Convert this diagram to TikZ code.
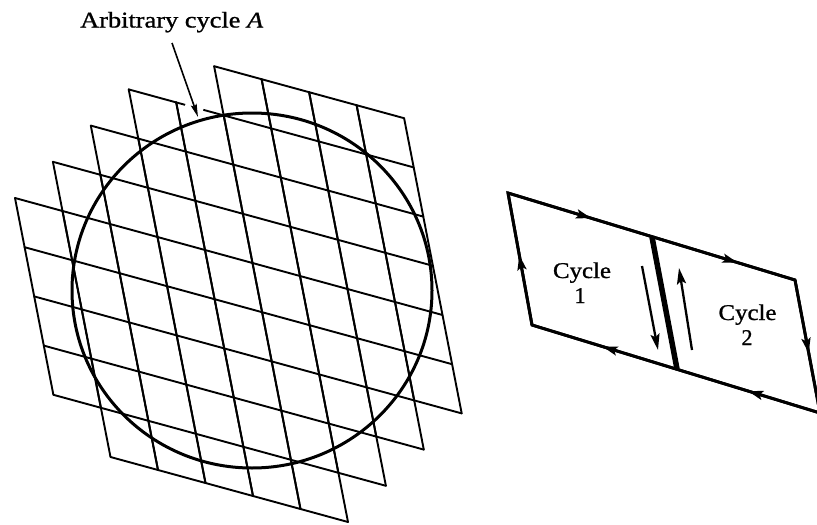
\documentclass[tikz,border=0pt]{standalone}
\usepackage{fontspec}
\usepackage{graphicx}
\setmainfont{Liberation Serif}
\newfontfamily\figfont[FakeBold=0.9]{Liberation Serif}
\usetikzlibrary{arrows.meta,decorations.markings}
\begin{document}
\begin{tikzpicture}[x=1pt,y=-1pt,
  gridline/.style={line width=1.9pt, line cap=round, line join=round},
  loopline/.style={line width=2.9pt, line cap=round, line join=miter},
  lbl/.style={font=\figfont\fontsize{22.5}{24}\selectfont, inner sep=0pt},
  bighead/.style={-{Stealth[length=16pt,width=9pt,inset=3pt]}},
  twomarks/.style n args={2}{postaction={decorate}, decoration={markings,
      mark=at position #1 with {\arrow{Stealth[length=15pt,width=9pt,inset=3pt]}},
      mark=at position #2 with {\arrow{Stealth[length=15pt,width=9pt,inset=3pt]}}}},
  onemark/.style={postaction={decorate}, decoration={markings,
      mark=at position #1 with {\arrow{Stealth[length=15pt,width=9pt,inset=3pt]}}}}
]
\useasboundingbox (0,0) rectangle (817,525);
\clip (0,0) rectangle (817,525);
\fill[white] (0,0) rectangle (817,525);

% grid of small Carnot cycles
\begin{scope}[shift={(15pt,-198pt)}, x={(47.5pt,-13pt)}, y={(9.6pt,-49.2pt)}]
  \foreach \c/\t/\b in {0/0/4,1/-1/5,2/-2/5,3/-3/5,4/-3/5,5/-4/5,6/-4/4,7/-4/3,8/-4/2}{
    \pgfmathtruncatemacro\cc{\c+1}
    \draw[gridline] (\c,\t) -- (\c,\b) (\cc,\t) -- (\cc,\b);
    \foreach \j in {\t,...,\b} \draw[gridline] (\c,\j) -- (\cc,\j);
  }
  \draw[white, line width=4pt] (4.19,-3) -- (4.57,-3);
\end{scope}

% arbitrary cycle
\draw[line width=3pt] (252,290.5) ellipse [x radius=180pt, y radius=177.5pt];

% label and pointer
\node[lbl, anchor=base west] (lab) at (80,27.5)
  {\resizebox{183pt}{\height}{Arbitrary cycle \textit{A}}};
\coordinate (ps) at (172,43);
\coordinate (ptip) at (198,117);
\draw[line width=1.6pt, -{Stealth[length=13pt,width=6pt,inset=2pt]}] (ps) -- (ptip);

% two cycles
\coordinate (p1) at (508,193);
\coordinate (p2) at (795,280);
\coordinate (p3) at (820,413);
\coordinate (p4) at (532,325);
\coordinate (m1) at (652,237);
\coordinate (m2) at (677,369);
\draw[loopline] (p1) -- (p2) -- (p3) -- (p4) -- cycle;
\draw[loopline, twomarks={0.29}{0.80}] (p1) -- (p2);
\draw[loopline, onemark=0.55] (p2) -- (p3);
\draw[loopline, twomarks={0.25}{0.755}] (p3) -- (p4);
\draw[loopline, onemark=0.53] (p4) -- (p1);
\draw[line width=5.5pt] (m1) -- (m2);

\coordinate (a1s) at (642,266);
\coordinate (a1e) at (658,350);
\coordinate (a2s) at (692,350);
\coordinate (a2e) at (679,268);
\draw[line width=2.3pt, bighead] (a1s) -- (a1e);
\draw[line width=2.3pt, bighead] (a2s) -- (a2e);

\node[lbl, anchor=base] (c1) at (582,278) {\resizebox{58pt}{\height}{Cycle}};
\node[lbl, anchor=base] (n1) at (580,303) {1};
\node[lbl, anchor=base] (c2) at (747.5,320) {\resizebox{58pt}{\height}{Cycle}};
\node[lbl, anchor=base] (n2) at (747,345) {2};
\end{tikzpicture}
\end{document}
